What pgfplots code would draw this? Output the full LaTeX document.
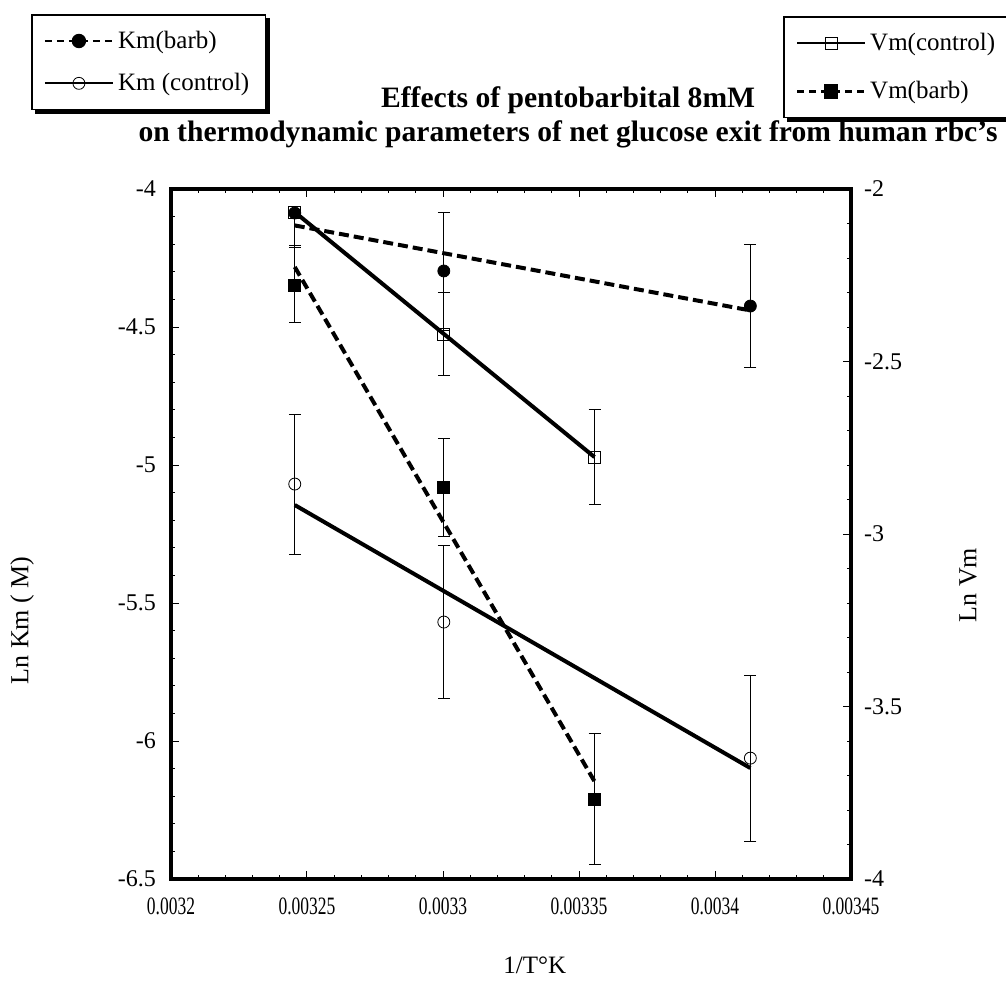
\documentclass[border=0pt]{standalone}
\usepackage{pgfplots}
\pgfplotsset{compat=1.18}
\usepackage{fontspec}
\setmainfont{Liberation Serif}
\newfontfamily\condfont[FakeStretch=0.7]{Liberation Serif}
\usetikzlibrary{backgrounds}

\pgfplotsset{
  common/.style={
    scale only axis, width=340pt, height=345pt,
    xmin=0.0032, xmax=0.00345,
    tick align=inside,
    major tick length=4pt, minor tick length=2pt,
    every tick/.style={black, line width=0.5pt},
    axis line style={line width=2pt},
    y tick label style={font=\fontsize{12}{13}\selectfont},
    legend image code/.code={\draw[mark repeat=2,mark phase=2,##1] plot coordinates {(0pt,0pt) (17pt,0pt) (34pt,0pt)};},
  },
  regline/.style={black, line width=2pt},
  dashreg/.style={black, line width=2pt, dash pattern=on 5pt off 2.5pt},
  pts/.style={only marks, black, mark size=3pt,
    error bars/y dir=both, error bars/y explicit,
    error bars/error bar style={line width=0.4pt, solid},
    error bars/error mark options={rotate=90, mark size=3pt, line width=0.4pt}},
}

\begin{document}
\begin{tikzpicture}
\path[use as bounding box] (-85.5pt,-57pt) rectangle (417.5pt,439.5pt);

% ---------------- Km axis (left) ----------------
\begin{axis}[common,
  ymin=-6.5, ymax=-4,
  xtick={0.0032,0.00325,0.0033,0.00335,0.0034,0.00345},
  xticklabels={0.0032,0.00325,0.0033,0.00335,0.0034,0.00345},
  scaled x ticks=false,
  ytick={-6.5,-6,-5.5,-5,-4.5,-4},
  yticklabels={-6.5,-6,-5.5,-5,-4.5,-4},
  minor x tick num=4, minor y tick num=4,
  xtick pos=both, ytick pos=left,
  x tick label style={font=\condfont\fontsize{12.5}{13}\selectfont, yshift=-6pt},
  y tick label style={xshift=-4pt},
  xlabel={1/T°K},
  xlabel style={at={(axis description cs:0.535,-0.125)}, anchor=center, font=\fontsize{12.5}{14}\selectfont},
  ylabel={Ln Km ( M)},
  ylabel style={at={(axis description cs:-0.219,0.375)}, anchor=center, font=\fontsize{13}{14}\selectfont},
  title={Effects of pentobarbital 8mM\\[3pt]on thermodynamic parameters of net glucose exit from human rbc's},
  title style={at={(axis description cs:0.584,1.0863)}, anchor=center, align=center, font=\bfseries\fontsize{14.8}{14}\selectfont},
  legend style={name=legA, at={(-0.206,1.2536)}, anchor=north west, draw=black, line width=0.8pt, fill=white,
    font=\fontsize{12.5}{14}\selectfont, row sep=7pt, inner xsep=6pt, inner ysep=6pt,
    cells={anchor=west}},
]
\addlegendimage{black, line width=1.2pt, dash pattern=on 3.5pt off 2.5pt, mark=*, mark size=3pt, mark options={solid}}
\addlegendentry{Km(barb)}
\addlegendimage{black, line width=1pt, mark=o, mark size=3pt, mark options={fill=white, line width=0.4pt}}
\addlegendentry{Km (control)}

% Km(barb) regression line
\addplot[forget plot, dashreg] coordinates {(0.0032455,-4.132) (0.0034130,-4.440)};
% Km (control) regression line
\addplot[forget plot, regline] coordinates {(0.0032455,-5.145) (0.0034130,-6.098)};

% Km(barb) points
\addplot[forget plot, pts, mark=*] coordinates {
  (0.0032455,-4.087) += (0,0) -= (0,0.116)
  (0.0033003,-4.297) +- (0,0.214)
  (0.0034130,-4.424) +- (0,0.223)
};
% Km (control) points
\addplot[forget plot, pts, mark=o, mark options={fill=white, line width=0.4pt}] coordinates {
  (0.0032455,-5.069) +- (0,0.254)
  (0.0033003,-5.569) +- (0,0.278)
  (0.0034130,-6.062) +- (0,0.300)
};
\end{axis}

% ---------------- Vm axis (right) ----------------
\begin{axis}[common,
  ymin=-4, ymax=-2,
  hide x axis,
  axis y line*=right,
  ytick={-4,-3.5,-3,-2.5,-2},
  yticklabels={-4,-3.5,-3,-2.5,-2},
  minor y tick num=4,
  y tick label style={xshift=3pt},
  ylabel={Ln Vm},
  ylabel style={at={(axis description cs:1.172,0.426)}, anchor=center, font=\fontsize{13}{14}\selectfont},
  legend style={name=legB, at={(0.9,1.2507)}, anchor=north west, draw=black, line width=0.8pt, fill=white,
    font=\fontsize{12.5}{14}\selectfont, row sep=10pt, inner xsep=6pt, inner ysep=6pt,
    cells={anchor=west}},
]
\addlegendimage{black, line width=1pt, mark=square, mark size=3pt, mark options={fill=white, line width=0.4pt}}
\addlegendentry{Vm(control)}
\addlegendimage{black, line width=1.2pt, dash pattern=on 3.5pt off 2.5pt, mark=square*, mark size=3pt, mark options={solid}}
\addlegendentry{Vm(barb)}

% Vm(control) regression line
\addplot[forget plot, regline] coordinates {(0.0032455,-2.067) (0.0033557,-2.777)};
% Vm(barb) regression line
\addplot[forget plot, dashreg] coordinates {(0.0032455,-2.226) (0.0033557,-3.717)};

% Vm(control) points
\addplot[forget plot, pts, mark=square, mark options={fill=white, line width=0.4pt}] coordinates {
  (0.0032455,-2.067) += (0,0) -= (0,0.101)
  (0.0033003,-2.420) +- (0,0.120)
  (0.0033557,-2.777) +- (0,0.138)
};
% Vm(barb) points
\addplot[forget plot, pts, mark=square*] coordinates {
  (0.0032455,-2.278) +- (0,0.109)
  (0.0033003,-2.864) +- (0,0.142)
  (0.0033557,-3.768) +- (0,0.190)
};
\end{axis}

% legend drop shadows
\begin{pgfonlayer}{background}
\fill[black] ([shift={(2pt,-2pt)}]legA.south west) rectangle ([shift={(2pt,-2pt)}]legA.north east);
\fill[black] ([shift={(2pt,-2pt)}]legB.south west) rectangle ([shift={(2pt,-2pt)}]legB.north east);
\end{pgfonlayer}
\end{tikzpicture}
\end{document}
